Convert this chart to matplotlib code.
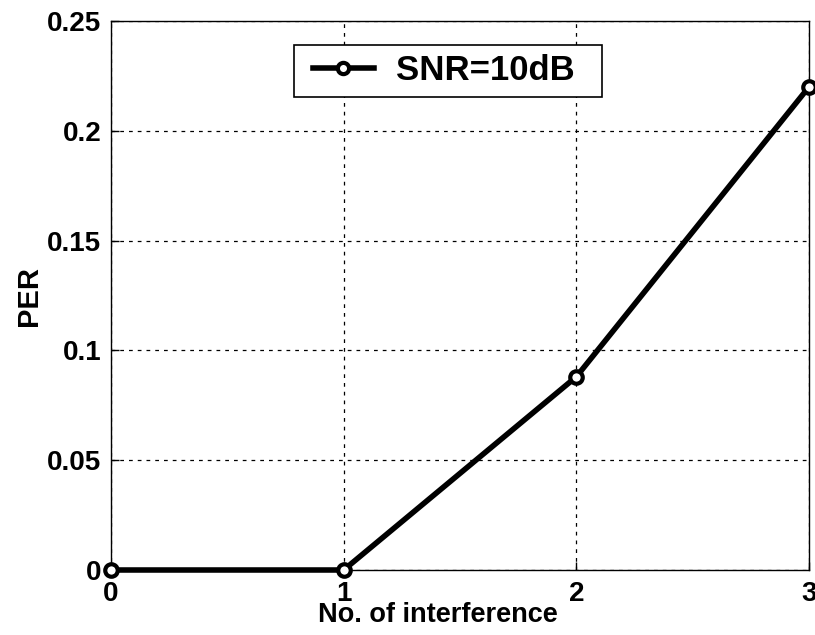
import matplotlib
matplotlib.use("Agg")
import matplotlib.pyplot as plt
from matplotlib.patches import Rectangle

interference = [0, 1, 2, 3]
per = [0.0, 0.0, 0.088, 0.22]
xticks = [0, 1, 2, 3]
yticks = [0, 0.05, 0.1, 0.15, 0.2, 0.25]
ytick_labels = ["0", "0.05", "0.1", "0.15", "0.2", "0.25"]

plt.rcParams['font.family'] = ['Liberation Sans', 'DejaVu Sans']
plt.rcParams['font.weight'] = 'bold'

fig = plt.figure(figsize=(8.15, 6.35), dpi=100)
AX_L, AX_R, AX_T, AX_B = 111, 809, 21, 570
W, H = AX_R - AX_L, AX_B - AX_T
ax = fig.add_axes([AX_L/815, 1 - AX_B/635, W/815, H/635])

ax.plot(interference, per, color='black', linewidth=4, marker='o',
        markersize=9, markerfacecolor='white', markeredgecolor='black',
        markeredgewidth=3, label='SNR=10dB', clip_on=False, zorder=5)

ax.set_xlim(0, 3)
ax.set_ylim(0, 0.25)
ax.set_xticks(xticks)
ax.set_xticklabels([str(v) for v in xticks])
ax.set_yticks(yticks)
ax.set_yticklabels(ytick_labels)
ax.tick_params(direction='in', length=6, width=1, labelsize=20)
ax.tick_params(axis='y', pad=7)
ax.tick_params(axis='x', pad=8)
for lab in ax.get_xticklabels() + ax.get_yticklabels():
    lab.set_fontweight('bold')
ax.grid(True, color='black', linestyle=(0, (3, 4)), linewidth=0.9)
for s in ax.spines.values():
    s.set_linewidth(1)
    s.set_color('black')

ax.set_xlabel('No. of interference', fontsize=19.5, fontweight='bold')
ax.xaxis.set_label_coords(0.468, -0.059, transform=ax.transAxes)
ax.xaxis.label.set_va('top')
ax.set_ylabel('PER', fontsize=21, fontweight='bold', labelpad=3)

# legend frame (box in pixel geometry of the reference)
frame = Rectangle(((294-AX_L)/W, (AX_B-97)/H), 308/W, 52/H,
                  transform=ax.transAxes, facecolor='white', edgecolor='black',
                  linewidth=1.2, zorder=6, clip_on=False)
ax.add_patch(frame)
leg = ax.legend(loc='center left',
                bbox_to_anchor=((313-AX_L)/W, (AX_B-71)/H),
                fontsize=25, frameon=False,
                handlelength=1.75, borderpad=0, handletextpad=0.65,
                borderaxespad=0, markerscale=0.9)
leg.set_zorder(7)
for t in leg.get_texts():
    t.set_fontweight('bold')

fig.savefig('out.png', dpi=100)
